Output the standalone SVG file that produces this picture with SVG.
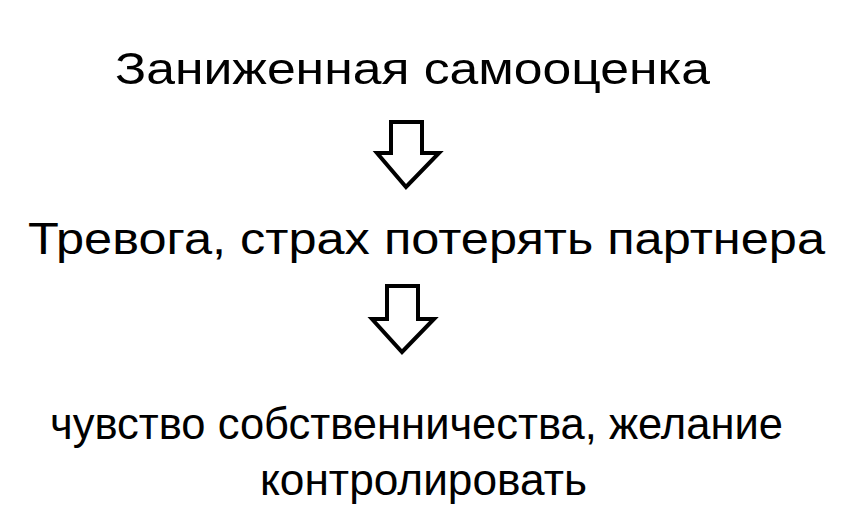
<svg xmlns="http://www.w3.org/2000/svg" width="855" height="531" viewBox="0 0 855 531">
<style>
.t{font-family:"Liberation Sans","DejaVu Sans",sans-serif;font-size:45px;fill:#000}
.arr{fill:#fff;stroke:#000;stroke-width:4;stroke-linejoin:miter}
</style>
<rect width="855" height="531" fill="#fff"/>
<g id="node1"><text class="t" x="115" y="84" textLength="595" lengthAdjust="spacingAndGlyphs">Заниженная самооценка</text></g>
<g id="node2"><text class="t" x="28" y="254" textLength="797" lengthAdjust="spacingAndGlyphs">Тревога, страх потерять партнера</text></g>
<g id="node3">
<text class="t" x="50" y="439" textLength="733" lengthAdjust="spacingAndGlyphs">чувство собственничества, желание</text>
<text class="t" x="260" y="495" textLength="327" lengthAdjust="spacingAndGlyphs">контролировать</text>
</g>
<g id="connectors">
<path class="arr" d="M391,122 H422 V153 H439 L406,187 L377,153 H391 Z"/>
<path class="arr" d="M387,286 H418 V319 H434 L402,352 L372,319 H387 Z"/>
</g>
</svg>
